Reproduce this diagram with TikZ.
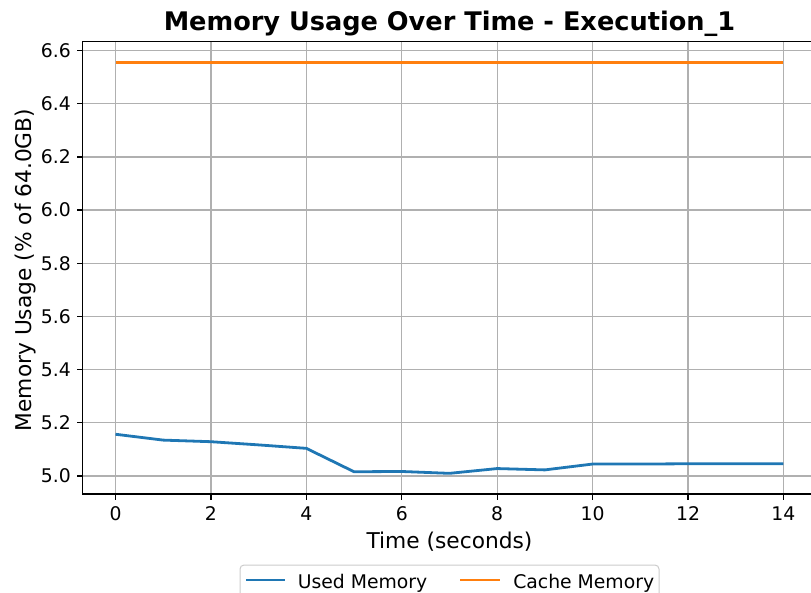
\documentclass[tikz,border=0pt]{standalone}
\usepackage{fontspec}
\setmainfont{DejaVu Sans}
\definecolor{usedblue}{HTML}{1F77B4}
\definecolor{cacheorange}{HTML}{FF7F0E}
\definecolor{gridgray}{HTML}{B0B0B0}
\definecolor{legendedge}{HTML}{CCCCCC}
\tikzset{
  gridline/.style={draw=gridgray, line width=1pt},
  spine/.style={draw=black, line width=0.95pt},
  tickmark/.style={draw=black, line width=0.95pt},
  ticklabel/.style={inner sep=0pt, font=\fontsize{14.1}{16}\selectfont},
  axislabel/.style={inner sep=0pt, font=\fontsize{16.3}{19}\selectfont},
  titlelabel/.style={inner sep=0pt, font=\fontsize{19.2}{22}\selectfont\bfseries},
  legendlabel/.style={inner sep=0pt, font=\fontsize{14.1}{16}\selectfont},
  series/.style={line width=2.1pt, line join=round, line cap=butt},
}
\begin{document}
\begin{tikzpicture}[x=0.75pt, y=-0.75pt]
\useasboundingbox (0,0) rectangle (811,593);
\clip (0,0) rectangle (811,593);

% data coordinates: seconds on x, percent on y
\begin{scope}[shift={(115.5,1805.5)}, x=35.7825pt, y=199.425pt]
  % grid
  \foreach \t in {0,2,...,14}
    \draw[gridline] (\t,4.932) -- (\t,6.634);
  \foreach \v in {5.0,5.2,5.4,5.6,5.8,6.0,6.2,6.4,6.6}
    \draw[gridline] (-0.696,\v) -- (14.7,\v);

  % series
  \draw[series, cacheorange] (0,6.556) -- (1,6.556) -- (2,6.556) -- (3,6.556)
    -- (4,6.556) -- (5,6.556) -- (6,6.556) -- (7,6.556) -- (8,6.556)
    -- (9,6.556) -- (10,6.556) -- (11,6.556) -- (12,6.556) -- (13,6.556)
    -- (14,6.556);
  \draw[series, usedblue] (0,5.157) -- (1,5.135) -- (2,5.129) -- (3,5.117)
    -- (4,5.104) -- (5,5.016) -- (6,5.017) -- (7,5.010) -- (8,5.028)
    -- (9,5.023) -- (10,5.045) -- (11,5.045) -- (12,5.046) -- (13,5.046)
    -- (14,5.046);

  % frame
  \draw[spine] (-0.696,4.932) rectangle (14.7,6.634);

  % x ticks
  \foreach \t in {0,2,...,14} {
    \draw[tickmark] (\t,4.932) -- ++(0,-4.1pt);
    \node[ticklabel, anchor=base, yshift=-20pt] (xt\t) at (\t,4.932) {\t};
  }
  % y ticks
  \foreach \v [count=\i] in {5.0,5.2,5.4,5.6,5.8,6.0,6.2,6.4,6.6} {
    \draw[tickmark] (-0.696,\v) -- ++(-4.1pt,0);
    \node[ticklabel, anchor=base east, xshift=-8.4pt, yshift=-5.1pt] (yt\i) at (-0.696,\v) {\v};
  }
\end{scope}

% titles
\node[titlelabel, anchor=base] (title) at (449.5,30) {Memory Usage Over Time - Execution\_1};
\node[axislabel, anchor=base] (xlabel) at (449.5,548.3) {Time (seconds)};
\node[axislabel, anchor=base, rotate=90] (ylabel) at (31.5,270) {Memory Usage (\% of 64.0GB)};

% legend
\draw[draw=legendedge, fill=white, line width=0.75pt, rounded corners=3pt] (240,565) rectangle (659,610);
\coordinate (usedA) at (246,580);
\coordinate (usedB) at (285,580);
\coordinate (cacheA) at (460,580);
\coordinate (cacheB) at (500,580);
\draw[series, usedblue] (usedA) -- (usedB);
\draw[series, cacheorange] (cacheA) -- (cacheB);
\node[legendlabel, anchor=base west] (usedtext) at (297.5,588.3) {Used Memory};
\node[legendlabel, anchor=base west] (cachetext) at (513,588.3) {Cache Memory};
\end{tikzpicture}
\end{document}
